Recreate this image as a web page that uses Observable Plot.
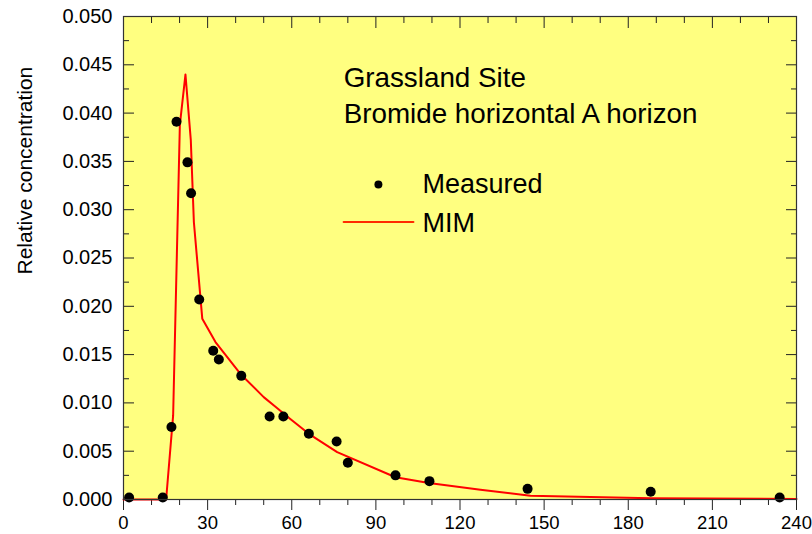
<!DOCTYPE html>
<html><head><meta charset="utf-8">
<script src="https://cdn.jsdelivr.net/npm/d3@7"></script>
<script src="https://cdn.jsdelivr.net/npm/@observablehq/plot@0.6"></script>
<style>html,body{margin:0;padding:0;background:#fff;}</style>
</head><body><div id="chart"></div>
<script>
// Measured relative concentration (days vs. C/C0)
const measuredDays = [2, 14, 17.1, 18.9, 22.8, 24.1, 27.0, 32.0, 34.0, 42.0, 52.1, 57.0, 66.1, 76.0, 80.0, 97.0, 109.1, 144.1, 188.0, 234.0];
const measuredConc = [0.0002, 0.0002, 0.0075, 0.0391, 0.0349, 0.0317, 0.0207, 0.0154, 0.0145, 0.0128, 0.0086, 0.0086, 0.0068, 0.0060, 0.0038, 0.0025, 0.0019, 0.0011, 0.0008, 0.0002];

// MIM model curve
const mimDays = [0, 15.2, 17.7, 20.1, 22.1, 24.0, 25.1, 28.1, 32.8, 41.7, 50.0, 54.2, 59.6, 66.1, 76.2, 97.0, 108.9, 127.3, 145.1, 188.0, 240.0];
const mimConc = [0, 0, 0.0087, 0.0388, 0.0440, 0.0372, 0.0287, 0.0187, 0.0163, 0.0130, 0.0106, 0.0096, 0.0083, 0.0068, 0.0049, 0.0023, 0.0017, 0.0010, 0.0004, 0.00013, 0.00005];

// Axis ticks
const xTicks = [0, 30, 60, 90, 120, 150, 180, 210, 240];
const xMinorTicks = [10, 20, 40, 50, 70, 80, 100, 110, 130, 140, 160, 170, 190, 200, 220, 230];
const yTicks = [0, 0.005, 0.010, 0.015, 0.020, 0.025, 0.030, 0.035, 0.040, 0.045, 0.050];
const yMinorTicks = [0.0025, 0.0075, 0.0125, 0.0175, 0.0225, 0.0275, 0.0325, 0.0375, 0.0425, 0.0475];

// Texts
const titleLines = ["Grassland Site", "Bromide horizontal A horizon"];
const legendLabels = ["Measured", "MIM"];
const yLabel = "Relative concentration";

// Annotation anchors (data units)
const titleX = 78.5;
const titleY = [0.04363, 0.03988];
const legendTextX = 106.6;
const legendTextY = [0.0326, 0.02856];
const legendDotX = 90.9;
const legendLineX = [78.5, 103.4];
const legendLineY = 0.02873;

const measured = measuredDays.map((x, i) => ({x, y: measuredConc[i]}));
const mim = mimDays.map((x, i) => ({x, y: mimConc[i]}));
const titles = titleLines.map((t, i) => ({x: titleX, y: titleY[i], t}));
const legendTexts = legendLabels.map((t, i) => ({x: legendTextX, y: legendTextY[i], t}));
const legendDot = [{x: legendDotX, y: legendTextY[0]}];
const legendLine = legendLineX.map(x => ({x, y: legendLineY}));

const font = '"Liberation Sans", Arial, Helvetica, sans-serif';

const chart = Plot.plot({
  width: 812,
  height: 534,
  marginLeft: 123,
  marginRight: 16,
  marginTop: 16,
  marginBottom: 35,
  style: {fontFamily: font, fontSize: "20px", background: "#fff", color: "#000", overflow: "visible"},
  x: {domain: [0, 240]},
  y: {domain: [0, 0.05]},
  marks: [
    Plot.frame({fill: "#ffff80", stroke: null}),
    // bottom axis: outward ticks with labels
    Plot.axisX(xTicks, {anchor: "bottom", tickSize: 11, tickPadding: 5, tickFormat: d => String(d), label: null, fontSize: 18.5, stroke: "#222"}),
    Plot.axisX(xMinorTicks, {anchor: "bottom", tickSize: 6, text: null, label: null, stroke: "#222"}),
    // top axis: inward ticks
    Plot.axisX(xTicks, {anchor: "top", tickSize: -11, text: null, label: null, stroke: "#222"}),
    Plot.axisX(xMinorTicks, {anchor: "top", tickSize: -6, text: null, label: null, stroke: "#222"}),
    // left axis: inward ticks, labels outside
    Plot.axisY(yTicks, {anchor: "left", tickSize: 0, tickPadding: 11, tickFormat: d3.format(".3f"), label: null, fontSize: 20}),
    Plot.axisY(yTicks, {anchor: "left", tickSize: -11, text: null, label: null, stroke: "#222"}),
    Plot.axisY(yMinorTicks, {anchor: "left", tickSize: -6, text: null, label: null, stroke: "#222"}),
    // right axis: inward ticks
    Plot.axisY(yTicks, {anchor: "right", tickSize: -11, text: null, label: null, stroke: "#222"}),
    Plot.axisY(yMinorTicks, {anchor: "right", tickSize: -6, text: null, label: null, stroke: "#222"}),
    // y label
    Plot.text([yLabel], {frameAnchor: "left", text: d => d, rotate: -90, dx: -98, dy: 16.5, fontSize: 21, fill: "#000"}),
    // model curve
    Plot.line(mim, {x: "x", y: "y", stroke: "#ff0000", strokeWidth: 2}),
    // measured points
    Plot.dot(measured, {x: "x", y: "y", r: 5, fill: "#000", stroke: null}),
    // title annotation
    Plot.text(titles, {x: "x", y: "y", text: "t", textAnchor: "start", fontSize: 27.8, fill: "#000"}),
    // legend
    Plot.dot(legendDot, {x: "x", y: "y", r: 4, fill: "#000", stroke: null}),
    Plot.line(legendLine, {x: "x", y: "y", stroke: "#ff2a00", strokeWidth: 2}),
    Plot.text(legendTexts, {x: "x", y: "y", text: "t", textAnchor: "start", fontSize: 27, fill: "#000"}),
    Plot.frame({stroke: "#333", strokeWidth: 1.2})
  ]
});
document.getElementById("chart").appendChild(chart);
</script>
</body></html>
